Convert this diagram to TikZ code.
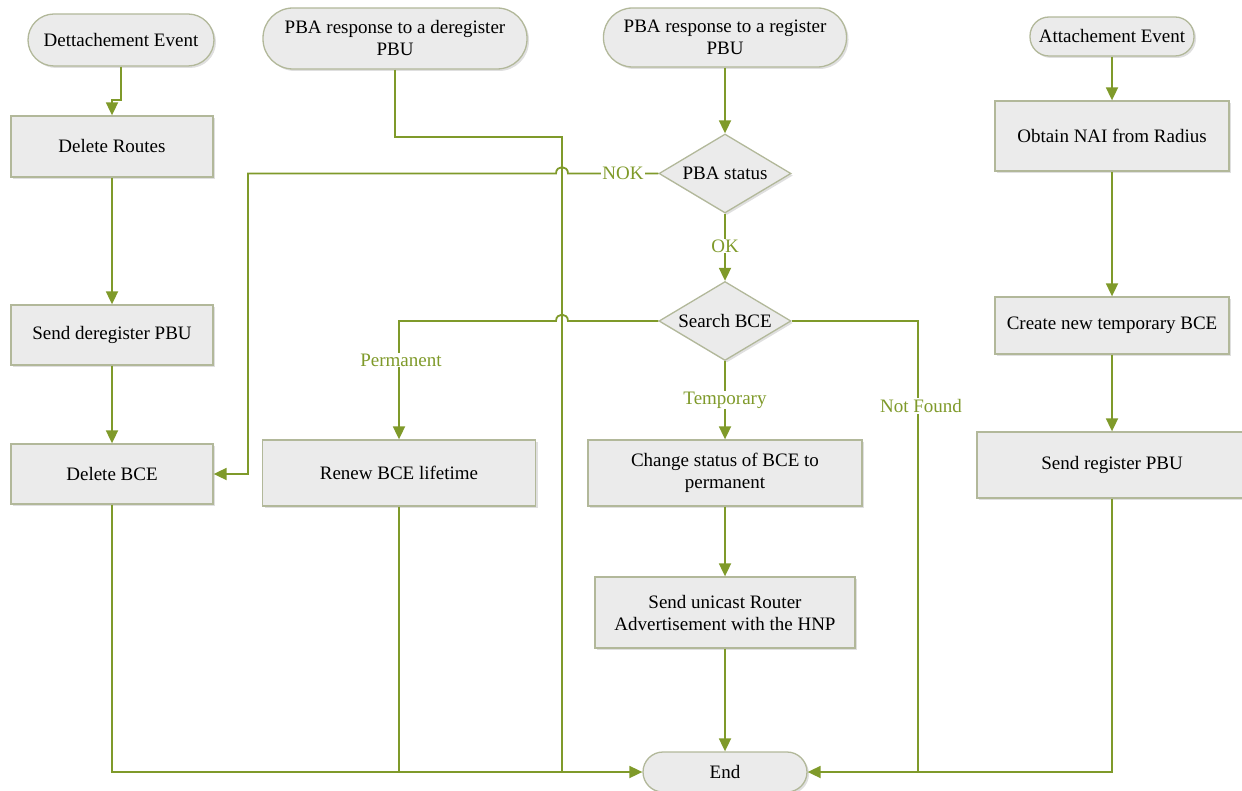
\documentclass[tikz,border=0pt]{standalone}
\usepackage{fontspec}
\setmainfont{Liberation Serif}
\usetikzlibrary{arrows.meta,shadows,shapes.geometric}
\definecolor{lg}{HTML}{7F9A2A}
\definecolor{bfill}{HTML}{EBEBEB}
\definecolor{bdraw}{HTML}{B2B89A}
\begin{document}
\begin{tikzpicture}[x=1pt,y=-1pt,
  box/.style={draw=bdraw, fill=bfill, line width=1.3pt, align=center, inner sep=2pt,
    font=\fontsize{19}{22}\selectfont,
    drop shadow={shadow xshift=2pt, shadow yshift=-2pt, opacity=0.25, fill=gray}},
  dia/.style={box, diamond, aspect=1.68, minimum width=132pt, minimum height=79pt, inner sep=0pt},
  ln/.style={draw=lg, line width=1.8pt},
  arr/.style={ln, -{Triangle[length=13pt,width=12pt]}},
  lab/.style={fill=white, text=lg, inner sep=1pt, font=\fontsize{19}{22}\selectfont}]
\useasboundingbox (0,0) rectangle (1242,791);
% nodes
\node[box, rounded corners=26pt, minimum width=186pt, minimum height=52pt] (det) at (121,40) {Dettachement Event};
\node[box, rounded corners=30pt, minimum width=264pt, minimum height=61pt] (pdr) at (395,38.5) {PBA response to a deregister\\PBU};
\node[box, rounded corners=29pt, minimum width=243pt, minimum height=59pt] (prr) at (725,37.5) {PBA response to a register\\PBU};
\node[box, rounded corners=19pt, minimum width=164pt, minimum height=39pt] (att) at (1112,36.5) {Attachement Event};
\node[box, minimum width=202pt, minimum height=61pt] (delr) at (112,146.5) {Delete Routes};
\node[dia] (pst) at (725,173.5) {PBA status};
\node[box, minimum width=234pt, minimum height=70pt] (nai) at (1112,136) {Obtain NAI from Radius};
\node[box, minimum width=202pt, minimum height=60pt] (sdp) at (112,335) {Send deregister PBU};
\node[dia] (sbce) at (725,321) {Search BCE};
\node[box, minimum width=234pt, minimum height=57pt] (cnt) at (1112,325.5) {Create new temporary BCE};
\node[box, minimum width=202pt, minimum height=60pt] (dbce) at (112,474) {Delete BCE};
\node[box, minimum width=273pt, minimum height=66pt] (renew) at (399,473) {Renew BCE lifetime};
\node[box, minimum width=274pt, minimum height=66pt] (chg) at (725,473) {Change status of BCE to\\permanent};
\node[box, minimum width=270pt, minimum height=66pt] (srp) at (1112,465) {Send register PBU};
\node[box, minimum width=260pt, minimum height=71pt] (suni) at (725,612.5) {Send unicast Router\\Advertisement with the HNP};
\node[box, rounded corners=20pt, minimum width=164pt, minimum height=40pt] (end) at (725,772) {End};
% connectors
\draw[arr] (det.south) -- (121,100) -- (112,100) -- (delr.north);
\draw[arr] (delr) -- (sdp);
\draw[arr] (sdp) -- (dbce);
\draw[arr] (dbce.south) |- (end.west);
\draw[ln] (pdr.south) |- (562,137) -- (562,772);
\draw[arr] (prr) -- (pst);
\draw[arr] (pst.west) -- (568,173.5) .. controls (568,165) and (556,165) .. (556,173.5) -- (248,173.5) |- (dbce.east);
\draw[arr] (pst) -- (sbce);
\draw[arr] (sbce.west) -- (568,321) .. controls (568,312.5) and (556,312.5) .. (556,321) -| (renew.north);
\draw[arr] (sbce) -- (chg);
\draw[arr] (sbce.east) -| (918,772) -- (end.east);
\draw[ln] (renew.south) -- (399,772);
\draw[arr] (chg) -- (suni);
\draw[arr] (suni) -- (end);
\draw[arr] (att) -- (nai);
\draw[arr] (nai) -- (cnt);
\draw[arr] (cnt) -- (srp);
\draw[ln] (srp.south) |- (918,772);
% labels
\node[lab] (lnok) at (623,173.5) {NOK};
\node[lab] (lok) at (725,246) {OK};
\node[lab] (lperm) at (401,360) {Permanent};
\node[lab] (ltemp) at (725,400) {Temporary};
\node[lab] (lnf) at (921,406) {Not Found};
\end{tikzpicture}
\end{document}
